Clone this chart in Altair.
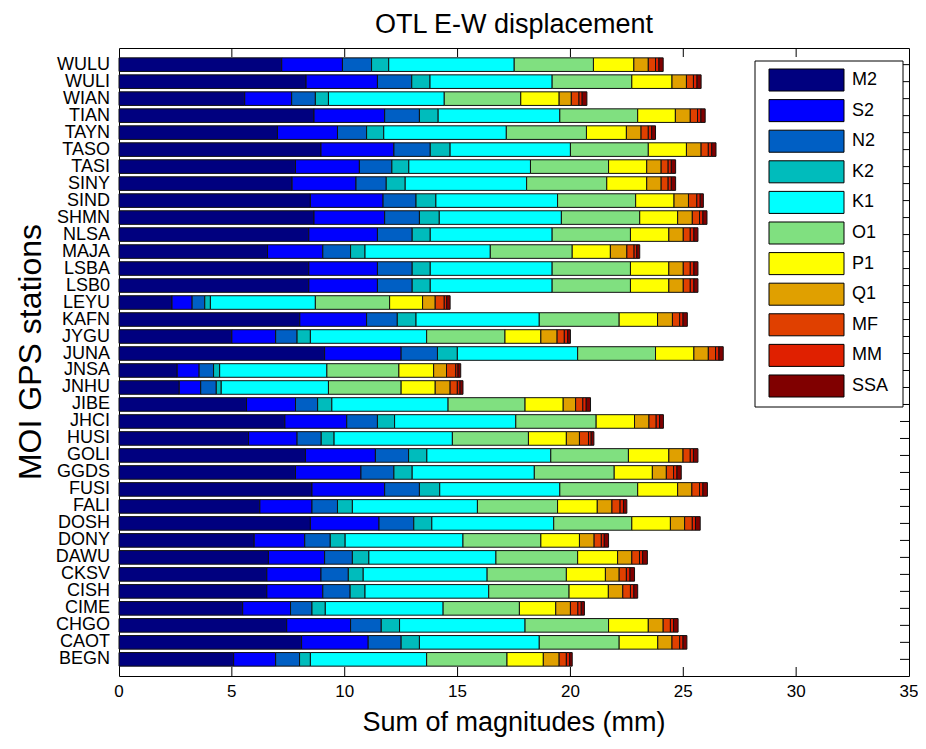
import altair as alt
import pandas as pd

stations = ["WULU", "WULI", "WIAN", "TIAN", "TAYN", "TASO", "TASI", "SINY", "SIND", "SHMN",
            "NLSA", "MAJA", "LSBA", "LSB0", "LEYU", "KAFN", "JYGU", "JUNA", "JNSA", "JNHU",
            "JIBE", "JHCI", "HUSI", "GOLI", "GGDS", "FUSI", "FALI", "DOSH", "DONY", "DAWU",
            "CKSV", "CISH", "CIME", "CHGO", "CAOT", "BEGN"]

constituents = ["M2", "S2", "N2", "K2", "K1", "O1", "P1", "Q1", "MF", "MM", "SSA"]
colors = ["#00007f", "#0000ff", "#005fc4", "#00bcbc", "#00ffff", "#80e080",
          "#ffff00", "#e0a000", "#e04000", "#e02000", "#800000"]

M2 = [7.21, 8.29, 5.57, 8.64, 7.02, 8.95, 7.82, 7.67, 8.48, 8.64, 8.41, 6.58, 8.41, 8.41, 2.35, 8.01, 5.00, 9.11,
      2.58, 2.67, 5.65, 7.35, 5.74, 8.26, 7.82, 8.55, 6.24, 8.48, 5.99, 6.62, 6.55, 6.55, 5.48, 7.43, 8.09, 5.08]
S2 = [2.69, 3.16, 2.08, 3.13, 2.66, 3.23, 2.83, 2.83, 3.22, 3.13, 3.04, 2.45, 3.04, 3.04, 0.89, 2.96, 1.94, 3.39,
      0.97, 0.95, 2.17, 2.74, 2.15, 3.10, 2.90, 3.22, 2.31, 3.04, 2.24, 2.49, 2.40, 2.48, 2.12, 2.83, 2.95, 1.86]
N2 = [1.29, 1.52, 1.05, 1.54, 1.29, 1.61, 1.44, 1.34, 1.46, 1.54, 1.54, 1.23, 1.54, 1.54, 0.56, 1.36, 0.95, 1.61,
      0.64, 0.69, 0.98, 1.36, 1.07, 1.47, 1.46, 1.54, 1.13, 1.54, 1.13, 1.23, 1.21, 1.21, 0.95, 1.36, 1.46, 1.06]
K2 = [0.76, 0.81, 0.58, 0.83, 0.76, 0.88, 0.75, 0.84, 0.88, 0.88, 0.80, 0.64, 0.80, 0.80, 0.25, 0.83, 0.59, 0.88,
      0.27, 0.22, 0.63, 0.76, 0.57, 0.81, 0.81, 0.90, 0.66, 0.80, 0.66, 0.73, 0.66, 0.66, 0.59, 0.81, 0.81, 0.48]
K1 = [5.56, 5.41, 5.13, 5.39, 5.43, 5.33, 5.39, 5.38, 5.39, 5.41, 5.40, 5.55, 5.40, 5.40, 4.65, 5.46, 5.15, 5.33,
      4.75, 4.75, 5.15, 5.37, 5.24, 5.49, 5.41, 5.32, 5.54, 5.40, 5.22, 5.63, 5.49, 5.48, 5.22, 5.56, 5.31, 5.15]
O1 = [3.51, 3.53, 3.39, 3.45, 3.55, 3.45, 3.46, 3.55, 3.46, 3.47, 3.47, 3.63, 3.47, 3.47, 3.29, 3.54, 3.47, 3.45,
      3.19, 3.22, 3.41, 3.56, 3.37, 3.44, 3.54, 3.45, 3.55, 3.46, 3.45, 3.62, 3.51, 3.56, 3.38, 3.70, 3.54, 3.56]
P1 = [1.79, 1.78, 1.70, 1.67, 1.77, 1.69, 1.69, 1.77, 1.70, 1.68, 1.70, 1.69, 1.70, 1.70, 1.46, 1.70, 1.59, 1.70,
      1.54, 1.51, 1.69, 1.70, 1.68, 1.79, 1.69, 1.77, 1.76, 1.71, 1.71, 1.77, 1.73, 1.74, 1.61, 1.76, 1.71, 1.61]
Q1 = [0.64, 0.64, 0.54, 0.66, 0.65, 0.65, 0.64, 0.64, 0.64, 0.65, 0.64, 0.73, 0.64, 0.64, 0.56, 0.66, 0.72, 0.64,
      0.57, 0.66, 0.55, 0.64, 0.58, 0.63, 0.62, 0.63, 0.65, 0.63, 0.65, 0.63, 0.61, 0.64, 0.65, 0.66, 0.63, 0.70]
MF = [0.32, 0.31, 0.34, 0.32, 0.32, 0.32, 0.31, 0.31, 0.37, 0.32, 0.31, 0.32, 0.31, 0.31, 0.40, 0.32, 0.32, 0.32,
      0.41, 0.32, 0.32, 0.32, 0.40, 0.32, 0.32, 0.34, 0.36, 0.34, 0.32, 0.34, 0.32, 0.34, 0.33, 0.32, 0.34, 0.32]
MM = [0.15, 0.16, 0.14, 0.15, 0.15, 0.15, 0.14, 0.14, 0.15, 0.15, 0.16, 0.12, 0.16, 0.16, 0.11, 0.15, 0.15, 0.15,
      0.10, 0.12, 0.15, 0.15, 0.12, 0.14, 0.15, 0.15, 0.15, 0.14, 0.13, 0.14, 0.16, 0.15, 0.15, 0.14, 0.15, 0.15]
SSA = [0.19, 0.18, 0.21, 0.19, 0.17, 0.19, 0.19, 0.19, 0.14, 0.18, 0.18, 0.13, 0.18, 0.18, 0.15, 0.19, 0.12, 0.19,
       0.12, 0.13, 0.19, 0.17, 0.12, 0.20, 0.19, 0.20, 0.15, 0.21, 0.19, 0.21, 0.20, 0.17, 0.14, 0.20, 0.17, 0.11]

x_ticks = [0, 5, 10, 15, 20, 25, 30, 35]
inner_ticks = [5, 10, 15, 20, 25, 30]
title_text = "OTL E-W displacement"
x_title = "Sum of magnitudes (mm)"
y_title = "MOI GPS stations"

series = {"M2": M2, "S2": S2, "N2": N2, "K2": K2, "K1": K1, "O1": O1,
          "P1": P1, "Q1": Q1, "MF": MF, "MM": MM, "SSA": SSA}

rows = []
for ci, c in enumerate(constituents):
    vals = series[c]
    for si, s in enumerate(stations):
        rows.append({"station": s, "constituent": c, "idx": ci, "value": vals[si]})
df = pd.DataFrame(rows)

W, H = 790, 628
FONT = "Liberation Sans"

xscale = alt.Scale(domain=[0, 35], nice=False, zero=True)


def yst():
    return alt.Scale(type="band", domain=stations, paddingInner=0.2, paddingOuter=0.58)


color_scale = alt.Scale(domain=constituents, range=colors)

bars = alt.Chart(df).mark_bar(stroke="#111111", strokeWidth=1, opacity=1).encode(
    x=alt.X("value:Q", stack="zero", scale=xscale, axis=None),
    y=alt.Y("station:N", sort=stations, scale=yst(), axis=None),
    color=alt.Color("constituent:N", sort=constituents, scale=color_scale, legend=None),
    order=alt.Order("idx:Q", sort="ascending"),
)

tick_df = pd.DataFrame({"t": inner_ticks})
top_ticks = alt.Chart(tick_df).mark_rule(color="black", strokeWidth=1).encode(
    x=alt.X("t:Q", scale=xscale, axis=None), y=alt.value(0), y2=alt.value(9))
bottom_ticks = alt.Chart(tick_df).mark_rule(color="black", strokeWidth=1).encode(
    x=alt.X("t:Q", scale=xscale, axis=None), y=alt.value(H - 9), y2=alt.value(H))

st_df = pd.DataFrame({"station": stations})
right_ticks = alt.Chart(st_df).mark_rule(color="black", strokeWidth=1).encode(
    y=alt.Y("station:N", sort=stations, scale=yst(), axis=None, bandPosition=0.5),
    x=alt.value(W - 9), x2=alt.value(W))

y_labels = alt.Chart(st_df).mark_text(align="right", baseline="middle", font=FONT,
                                       fontSize=18, color="black").encode(
    y=alt.Y("station:N", sort=stations, scale=yst(), axis=None, bandPosition=0.5),
    x=alt.value(-9), text="station:N")

xl_df = pd.DataFrame({"t": x_ticks})
x_labels = alt.Chart(xl_df).mark_text(align="center", baseline="top", font=FONT,
                                      fontSize=17, color="black").encode(
    x=alt.X("t:Q", scale=xscale, axis=None), y=alt.value(H + 8), text="t:Q")

xt_df = pd.DataFrame({"label": [x_title]})
x_title_mark = alt.Chart(xt_df).mark_text(align="center", baseline="alphabetic", font=FONT,
                                          fontSize=27, color="black").encode(
    x=alt.value(W / 2), y=alt.value(H + 55), text="label:N")

yt_df = pd.DataFrame({"label": [y_title]})
y_title_mark = alt.Chart(yt_df).mark_text(align="center", baseline="middle", font=FONT,
                                          fontSize=32, angle=270, color="black").encode(
    x=alt.value(-88), y=alt.value(H / 2 - 10), text="label:N")

tt_df = pd.DataFrame({"label": [title_text]})
title_mark = alt.Chart(tt_df).mark_text(align="center", baseline="alphabetic", font=FONT,
                                        fontSize=27, color="black").encode(
    x=alt.value(W / 2), y=alt.value(-15), text="label:N")

# legend drawn inside the plot (box, swatches, labels)
lg_df = pd.DataFrame({"constituent": constituents})


def ylg():
    return alt.Scale(type="band", domain=constituents, range=[21, 349],
                     paddingInner=0.28, paddingOuter=0)


box_df = pd.DataFrame({"k": [1]})
legend_box = alt.Chart(box_df).mark_rect(fill="white", stroke="black", strokeWidth=1).encode(
    x=alt.value(636), x2=alt.value(784), y=alt.value(13), y2=alt.value(359))
legend_sw = alt.Chart(lg_df).mark_bar(stroke="black", strokeWidth=1, opacity=1).encode(
    y=alt.Y("constituent:N", sort=constituents, scale=ylg(), axis=None),
    x=alt.value(650), x2=alt.value(725),
    color=alt.Color("constituent:N", sort=constituents, scale=color_scale, legend=None))
legend_lb = alt.Chart(lg_df).mark_text(align="left", baseline="middle", font=FONT,
                                       fontSize=18, color="black").encode(
    y=alt.Y("constituent:N", sort=constituents, scale=ylg(), axis=None, bandPosition=0.5),
    x=alt.value(733), text="constituent:N")

chart = alt.layer(
    bars, top_ticks, bottom_ticks, right_ticks, y_labels, x_labels, x_title_mark,
    y_title_mark, title_mark, legend_box, legend_sw, legend_lb
).resolve_scale(
    y="independent"
).properties(
    width=W, height=H,
    padding={"left": 111, "top": 40, "right": 9, "bottom": 65},
    autosize=alt.AutoSizeParams(type="none"),
).configure_view(
    stroke="black", strokeWidth=1
)

chart.save("out.html", embed_options={"renderer": "svg", "actions": False})
